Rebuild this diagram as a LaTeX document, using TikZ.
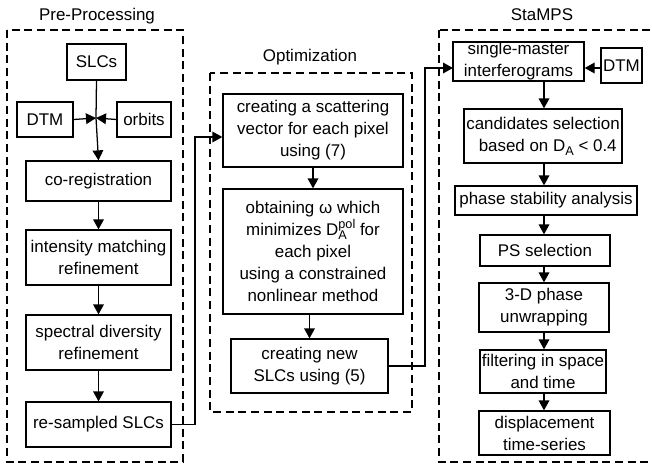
\documentclass[tikz,border=0pt]{standalone}
\usepackage{fontspec}
\setmainfont{Liberation Sans}
\usetikzlibrary{arrows.meta}
\newcommand\sm[1]{{\fontsize{9.5}{10}\selectfont #1}}
\newcommand\bx[6]{\node[box, minimum width={(#4-#2)*0.75pt}, minimum height={(#5-#3)*0.75pt}] (#1) at ({(#2+#4)/2},{(#3+#5)/2}) {#6};}
\tikzset{
  box/.style={draw, line width=0.95pt, inner sep=0pt, align=center, font=\fontsize{12.7}{16.5}\selectfont},
  conn/.style={line width=0.95pt, -{Triangle[length=7.5pt,width=8pt]}},
  plainline/.style={line width=0.95pt},
  group/.style={draw, line width=1.3pt, dash pattern=on 6pt off 3.5pt},
  title/.style={font=\fontsize{12.7}{15}\selectfont, inner sep=0pt}
}
\begin{document}
\begin{tikzpicture}[x=0.75pt,y=-0.75pt]
\clip (0,0) rectangle (652,464);
% group frames
\draw[group] (7,30) rectangle (183,462);
\draw[group] (210,73) rectangle (412,412);
\draw[group] (439,30) rectangle (670,462);
\node[title] (t1) at (97,16) {Pre-Processing};
\node[title] (t2) at (310,57) {Optimization};
\node[title] (t3) at (542,15) {StaMPS};
% Pre-processing
\bx{slc}{67}{44}{126}{80}{SLCs}
\bx{dtm}{17}{102}{73}{137}{DTM}
\bx{orb}{117}{102}{171}{137}{orbits}
\bx{coreg}{26}{161}{171}{201}{co-registration}
\bx{intm}{26}{230}{171}{285}{intensity matching\\refinement}
\bx{spec}{26}{315}{171}{370}{spectral diversity\\refinement}
\bx{resl}{26}{402}{171}{447}{re-sampled SLCs}
\coordinate (j) at (96,118);
\draw[plainline] (slc.south) -- (j);
\draw[conn] (j) -- (coreg.north);
\draw[conn] (dtm.east) -- (j);
\draw[conn] (orb.west) -- (j);
\draw[conn] (coreg) -- (intm);
\draw[conn] (intm) -- (spec);
\draw[conn] (spec) -- (resl);
% Optimization
\bx{o1}{223}{94}{403}{167}{creating a scattering\\vector for each pixel\\using (7)}
\bx{o2}{223}{189}{403}{314}{obtaining ω which\\minimizes D\rlap{\raisebox{-0.45ex}{\sm{A}}}\raisebox{0.8ex}{\sm{pol}} for\\each pixel\\using a constrained\\nonlinear method}
\bx{o3}{231}{339}{388}{393}{creating new\\SLCs using (5)}
\draw[conn] (resl.east) -| (195,137) -- (o1.west |- 0,137);
\draw[conn] (o1) -- (o2);
\draw[conn] (o2.south -| o3.north) -- (o3.north);
\draw[conn] (o3.east) -| (425,68) -- (453,68);
% StaMPS
\bx{sm}{453}{42}{584}{81}{single-master\\interferograms}
\bx{dtm2}{601}{48}{642}{83}{DTM}
\bx{cand}{464}{109}{622}{163}{candidates selection\\\ \ based on D\raisebox{-0.45ex}{\sm{A}} < 0.4}
\bx{phs}{455}{186}{637}{215}{phase stability analysis}
\bx{pss}{480}{235}{610}{266}{PS selection}
\bx{unw}{479}{283}{609}{332}{3-D phase\\unwrapping}
\bx{filt}{480}{350}{606}{393}{filtering in space\\and time}
\bx{disp}{479}{411}{610}{455}{displacement\\time-series}
\draw[conn] (dtm2.west |- 0,68) -- (sm.east |- 0,68);
\draw[conn] (544,81) -- (cand.north -| 544,0);
\draw[conn] (cand.south -| 544,0) -- (phs.north -| 544,0);
\draw[conn] (phs.south -| 544,0) -- (pss.north -| 544,0);
\draw[conn] (pss.south -| 544,0) -- (unw.north -| 544,0);
\draw[conn] (unw.south -| 544,0) -- (filt.north -| 544,0);
\draw[conn] (filt.south -| 544,0) -- (disp.north -| 544,0);
\end{tikzpicture}
\end{document}
